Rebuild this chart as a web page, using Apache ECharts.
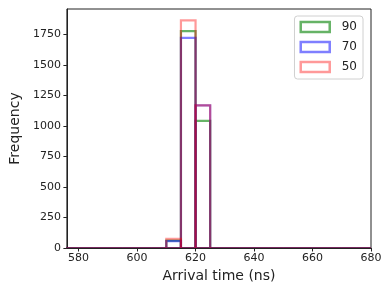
<!DOCTYPE html>
<html><head><meta charset="utf-8">
<script src="https://cdn.jsdelivr.net/npm/echarts@6/dist/echarts.min.js"></script>
<style>html,body{margin:0;padding:0;background:#fff}#c{width:391px;height:293px}</style>
</head><body><div id="c"></div>
<script>
const binEdges = [575,580,585,590,595,600,605,610,615,620,625,630,635,640,645,650,655,660,665,670,675,680];
const seriesNames = ['90', '70', '50'];
const counts90 = [0,0,0,0,0,0,0,60,1777,1041,0,0,0,0,0,0,0,0,0,0,0];
const counts70 = [0,0,0,0,0,0,0,57,1722,1168,0,0,0,0,0,0,0,0,0,0,0];
const counts50 = [0,0,0,0,0,0,0,74,1865,1168,0,0,0,0,0,0,0,0,0,0,0];
const xTicks = [580,600,620,640,660,680];
const yTicks = [0,250,500,750,1000,1250,1500,1750];

const colors = ['rgba(0,128,0,0.6)', 'rgba(0,0,255,0.5)', 'rgba(255,0,0,0.4)'];
const allCounts = [counts90, counts70, counts50];
const FONT = 'DejaVu Sans';
const AX = '#222';

function makeSeries(name, counts, color) {
  return {
    name: name,
    type: 'custom',
    clip: true,
    encode: { x: [0, 1], y: 2 },
    data: counts.map((c, i) => [binEdges[i], binEdges[i + 1], c]),
    itemStyle: { color: color },
    renderItem: function (params, api) {
      const p0 = api.coord([api.value(0), api.value(2)]);
      const p1 = api.coord([api.value(1), 0]);
      return {
        type: 'rect',
        shape: { x: p0[0], y: p0[1], width: p1[0] - p0[0], height: p1[1] - p0[1] },
        style: { fill: 'none', stroke: color, lineWidth: 2.2 }
      };
    }
  };
}

const chart = echarts.init(document.getElementById('c'), null, { renderer: 'canvas' });
chart.setOption({
  animation: false,
  backgroundColor: '#fff',
  grid: { left: 63, right: 20, top: 9, bottom: 45, show: true, borderColor: AX, borderWidth: 1, containLabel: false },
  xAxis: {
    type: 'value', min: 576, max: 680,
    name: 'Arrival time (ns)', nameLocation: 'middle', nameGap: 20,
    nameTextStyle: { fontFamily: FONT, fontSize: 14, color: AX },
    axisLine: { show: true, lineStyle: { color: AX, width: 1 } },
    axisTick: { show: true, length: 3.5, customValues: xTicks, lineStyle: { color: AX } },
    axisLabel: { customValues: xTicks, margin: 5, fontFamily: FONT, fontSize: 11, color: AX, formatter: v => String(v) },
    splitLine: { show: false }
  },
  yAxis: {
    type: 'value', min: 0, max: 1958,
    name: 'Frequency', nameLocation: 'middle', nameGap: 40, nameRotate: 90,
    nameTextStyle: { fontFamily: FONT, fontSize: 14, color: AX },
    axisLine: { show: true, lineStyle: { color: AX, width: 1 } },
    axisTick: { show: true, length: 3.5, customValues: yTicks, lineStyle: { color: AX } },
    axisLabel: { customValues: yTicks, margin: 6, fontFamily: FONT, fontSize: 11, color: AX, formatter: v => String(v) },
    splitLine: { show: false }
  },
  legend: {
    orient: 'vertical', right: 28, top: 16,
    padding: [4, 6, 5, 5], itemGap: 6, itemWidth: 29, itemHeight: 10,
    borderColor: '#d0d0d0', borderWidth: 1, borderRadius: 3,
    textStyle: { fontFamily: FONT, fontSize: 12, color: AX, lineHeight: 14, padding: [0, 0, 0, 7] },
    data: seriesNames.map((n, i) => ({
      name: n, icon: 'rect',
      itemStyle: { color: 'rgba(0,0,0,0)', borderColor: colors[i], borderWidth: 2.5 }
    }))
  },
  series: seriesNames.map((n, i) => makeSeries(n, allCounts[i], colors[i]))
});
</script>
</body></html>
